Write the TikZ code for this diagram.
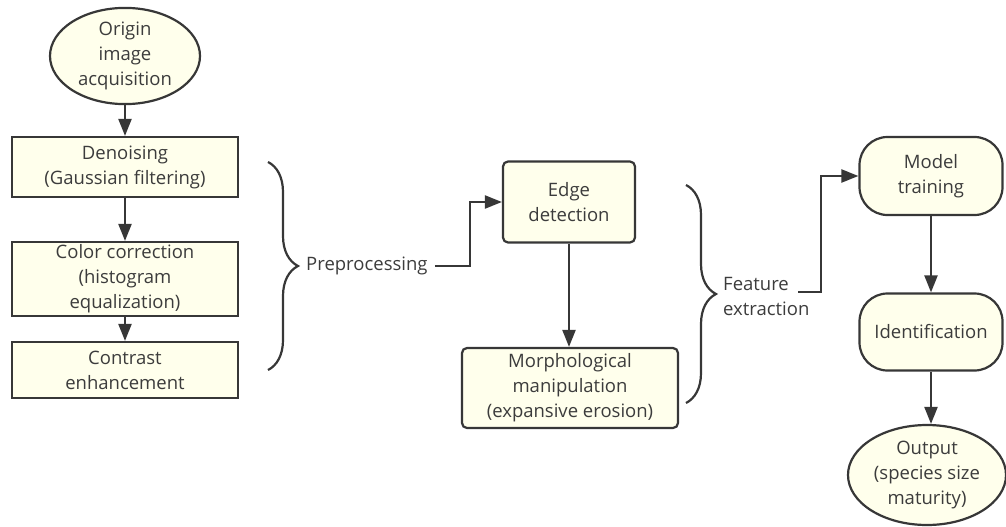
\documentclass[tikz,border=0pt]{standalone}
\usepackage{fontspec}
\setmainfont{Open Sans}
\usetikzlibrary{shapes.geometric,arrows.meta,decorations.pathreplacing}
\definecolor{boxfill}{RGB}{255,255,236}
\definecolor{boxline}{RGB}{55,55,55}
\definecolor{txtgray}{RGB}{60,60,60}

\begin{document}
\begin{tikzpicture}[x=1pt,y=-1pt]

    \tikzset{
      BoxStyle/.style = { rectangle, draw = boxline, fill = boxfill,
                          line width = 2.2pt, text = txtgray, align = center,
                          inner sep = 0pt,
                          font = \fontsize{18.5}{25}\selectfont },
      RoundStyle/.style = { BoxStyle, rounded corners = 5pt },
      PillStyle/.style = { BoxStyle, rounded corners = 28pt },
      OvalStyle/.style = { BoxStyle, ellipse },
      TextStyle/.style = { text = txtgray, inner sep = 0pt,
                           font = \fontsize{18.5}{25}\selectfont },
      ArrowStyle/.style = { draw = boxline, line width = 2.2pt,
                            -{Triangle[length=17pt,width=13pt]} },
      BraceStyle/.style = { draw = boxline, line width = 2.2pt,
                            decorate, decoration = {brace, amplitude = 30pt} } }
    \useasboundingbox (0,0) rectangle (1006,527);

    % left column
    \node[OvalStyle, minimum width=150pt, minimum height=92pt] (origin) at (125,56)
      {Origin\\image\\acquisition};
    \node[BoxStyle, minimum width=226pt, minimum height=60pt] (denoise) at (125,167)
      {Denoising\\(Gaussian filtering)};
    \node[BoxStyle, minimum width=226pt, minimum height=74pt] (color) at (125,279)
      {Color correction\\(histogram\\equalization)};
    \node[BoxStyle, minimum width=226pt, minimum height=56pt] (contrast) at (125,370)
      {Contrast\\enhancement};

    \draw[ArrowStyle] (origin) -- (denoise);
    \draw[ArrowStyle] (denoise) -- (color);
    \draw[ArrowStyle] (color) -- (contrast);

    \coordinate (pretop) at (268,162);
    \coordinate (prebot) at (268,370);
    \draw[BraceStyle] (pretop) -- (prebot);
    \node[TextStyle, anchor=west] (pre) at (306,266) {Preprocessing};

    % middle column
    \node[RoundStyle, minimum width=132pt, minimum height=81pt] (edge) at (569,202)
      {Edge\\detection};
    \node[RoundStyle, minimum width=216pt, minimum height=80pt] (morph) at (570,388)
      {Morphological\\manipulation\\(expansive erosion)};

    \draw[ArrowStyle] (pre.east) ++(7,0) -- (470,266) |- (edge.west);
    \draw[ArrowStyle] (edge.south) -- (edge.south |- morph.north);

    \coordinate (feattop) at (686,185);
    \coordinate (featbot) at (686,403);
    \draw[BraceStyle] (feattop) -- (featbot);
    \node[TextStyle, anchor=west, align=left] (feat) at (723,296)
      {Feature\\extraction};

    % right column
    \node[PillStyle, minimum width=143pt, minimum height=78pt] (train) at (931,176)
      {Model\\training};
    \node[PillStyle, minimum width=143pt, minimum height=77pt] (ident) at (931,332)
      {Identification};
    \node[OvalStyle, minimum width=158pt, minimum height=100pt] (output) at (927,475)
      {Output\\(species size\\maturity)};

    \draw[ArrowStyle] (798,292) -- (821,292) |- (train.west);
    \draw[ArrowStyle] (train) -- (ident);
    \draw[ArrowStyle] (ident.south) -- (ident.south |- output.north);

\end{tikzpicture}
\end{document}
